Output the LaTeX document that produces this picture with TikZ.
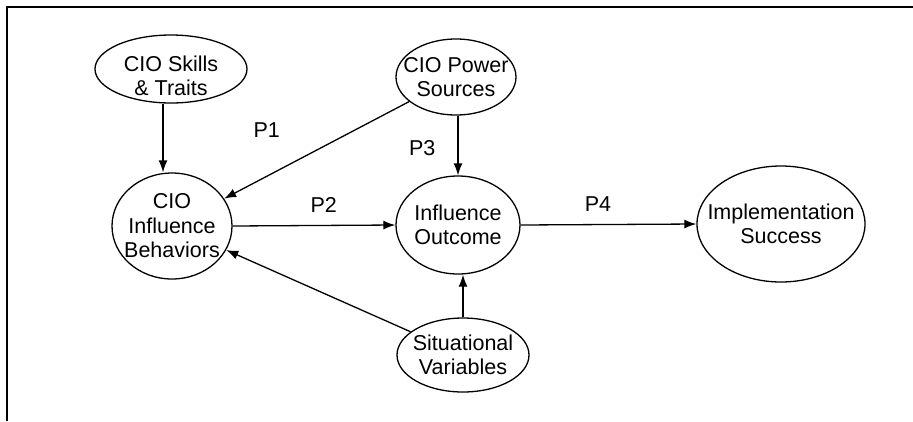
\documentclass[tikz,border=0pt]{standalone}
\usepackage{fontspec}
\setsansfont{Liberation Sans}
\usepackage{tikz}
\usetikzlibrary{shapes.geometric,arrows.meta,positioning,calc}

\begin{document}
\begin{tikzpicture}[
    x=1pt, y=-1pt,
    font=\sffamily\fontsize{21.5}{24.5}\selectfont,
    conceptNode/.style={
        ellipse, draw=black, line width=1.3pt, fill=white,
        inner sep=0pt
    },
    conceptText/.style={
        align=center, inner sep=0pt
    },
    flowArrow/.style={
        -{Latex[length=12pt, width=9pt]}, line width=1.3pt, draw=black
    },
    propLabel/.style={
        inner sep=2pt
    }
]

% Frame (page cut off right and bottom)
\useasboundingbox (0,0) rectangle (913,421);
\draw[line width=1.6pt] (913,7) -- (7,7) -- (7,421);

% Antecedents (top)
\node[conceptNode, minimum width=152pt, minimum height=68pt,
      label={[conceptText, yshift=-7pt]center:CIO Skills\\\& Traits}] (skills) at (171,69) {};
\node[conceptNode, minimum width=120pt, minimum height=76pt,
      label={[conceptText]center:CIO Power\\Sources}] (power) at (456,77) {};

% Main chain
\node[conceptNode, minimum width=120pt, minimum height=106pt,
      label={[conceptText]center:CIO\\Influence\\Behaviors}] (behav) at (172,226) {};
\node[conceptNode, minimum width=124pt, minimum height=98pt,
      label={[conceptText]center:Influence\\Outcome}] (outcome) at (458,225) {};
\node[conceptNode, minimum width=168pt, minimum height=116pt,
      label={[conceptText]center:Implementation\\Success}] (impl) at (781,224) {};

% Moderator (bottom)
\node[conceptNode, minimum width=132pt, minimum height=74pt,
      label={[conceptText]center:Situational\\Variables}] (situ) at (463,355) {};

% Flows
\draw[flowArrow] ([xshift=-8pt]skills.south) -- ([xshift=-9pt]behav.north);
\draw[flowArrow] (power) -- node[propLabel, pos=0.62, above left=22pt and 12pt] {P1} (behav);
\draw[flowArrow] (behav.east) -- node[propLabel, above=10pt, pos=0.56] {P2} (outcome.west);
\draw[flowArrow] (power.south -| outcome.north) -- node[propLabel, left=20pt, pos=0.55] {P3} (outcome.north);
\draw[flowArrow] (outcome.east) -- node[propLabel, above=10pt, pos=0.44] {P4} (impl.west);

\draw[flowArrow] (situ.north) -- (situ.north |- outcome.south);
\draw[flowArrow] (situ) -- (behav);

\end{tikzpicture}
\end{document}
